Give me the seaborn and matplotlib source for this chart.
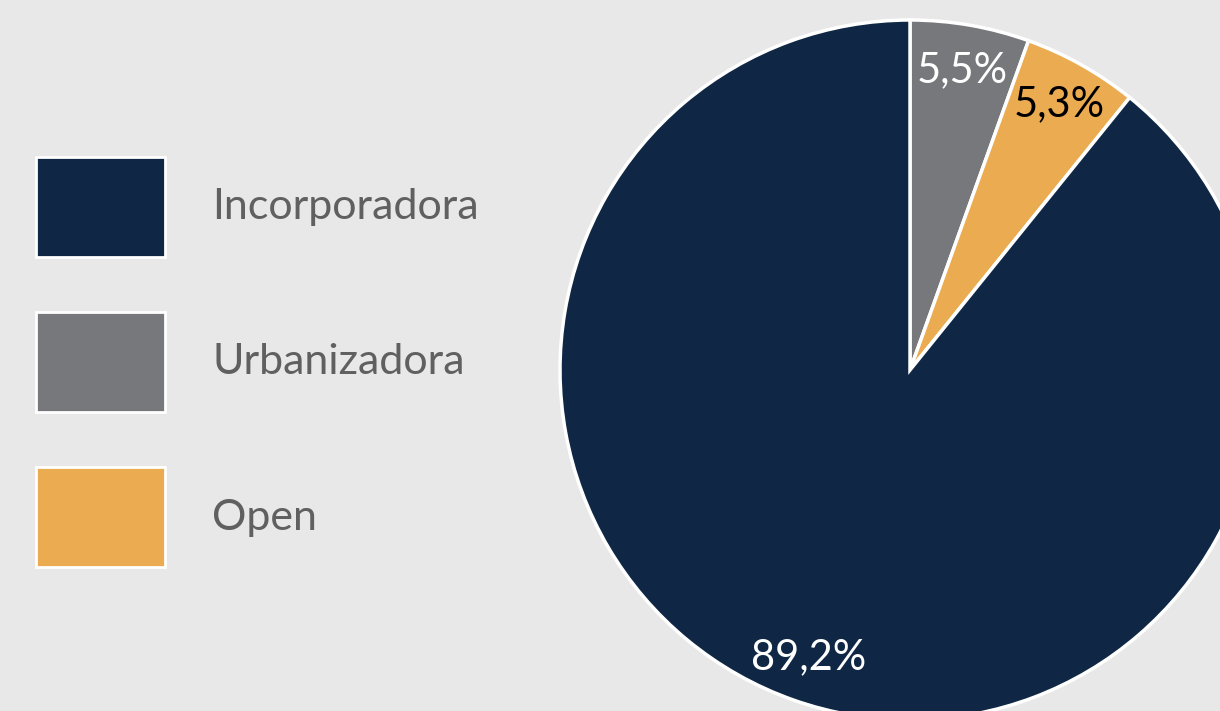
import matplotlib
matplotlib.use("Agg")
import matplotlib.pyplot as plt
import matplotlib.patches as mpatches
import seaborn as sns

# data (pie drawn clockwise from top)
categories = ["Urbanizadora", "Open", "Incorporadora"]
shares = [5.5, 5.3, 89.2]
colors = ["#77787c", "#ebab50", "#0f2744"]
label_colors = ["white", "black", "white"]
legend_order = ["Incorporadora", "Urbanizadora", "Open"]

sns.set_theme(style="white")
plt.rcParams["font.family"] = ["Lato", "DejaVu Sans"]

W, H = 1220, 711
fig = plt.figure(figsize=(W / 100, H / 100), dpi=100, facecolor="#e8e8e8")

# pie axes: center (910, 370), radius 350 px
cx, cy, r = 910, 370, 350
ax = fig.add_axes([(cx - r) / W, (H - cy - r) / H, 2 * r / W, 2 * r / H])
ax.set_facecolor("none")

wedges, texts, autotexts = ax.pie(
    shares,
    colors=colors,
    startangle=90,
    counterclock=False,
    autopct=lambda p: f"{p:.1f}%".replace(".", ","),
    pctdistance=0.87,
    wedgeprops=dict(edgecolor="white", linewidth=2.5),
    textprops=dict(fontsize=30, fontweight="normal"),
)
for t, c in zip(autotexts, label_colors):
    t.set_color(c)
ax.set_xlim(-1.0, 1.0)
ax.set_ylim(-1.0, 1.0)
ax.set_aspect("equal")
ax.axis("off")

color_map = dict(zip(categories, colors))
handles = [mpatches.Patch(facecolor=color_map[c], edgecolor="white", linewidth=2, label=c)
           for c in legend_order]
fs = 31
leg = fig.legend(
    handles=handles,
    loc="center left",
    bbox_to_anchor=(36 / W, 1 - 362 / H),
    frameon=False,
    handlelength=3.0,
    handleheight=3.2,
    labelspacing=1.28,
    handletextpad=1.09,
    borderpad=0,
    borderaxespad=0,
    prop=dict(size=fs, weight="normal"),
)
for t in leg.get_texts():
    t.set_color("#606060")

fig.savefig("out.png", dpi=100, facecolor=fig.get_facecolor())
